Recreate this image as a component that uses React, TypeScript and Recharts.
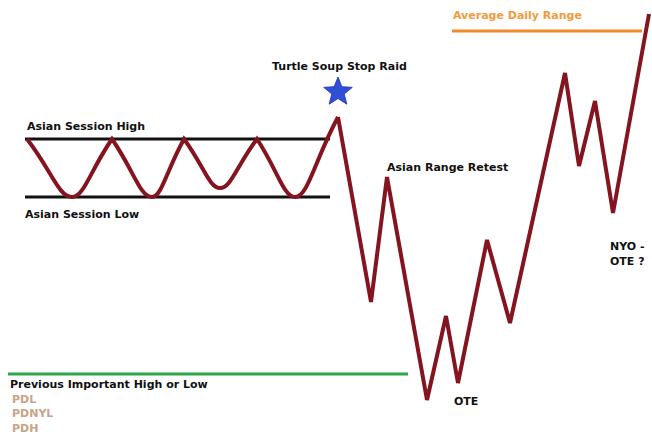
import { LineChart, Line, XAxis, YAxis, ReferenceLine, ReferenceDot } from "recharts";

// time runs left to right, price runs upward
const asianTime = [27, 72, 112, 152, 184, 220, 257, 295, 338];
const asianPrice = [303, 245, 303, 245, 303, 254, 303, 245, 325];
const moveTime = [338, 371, 387, 427, 446, 458, 487, 510, 565, 579, 595, 613, 649];
const movePrice = [325, 140, 265, 42, 126, 59, 202, 119, 369, 276, 341, 229, 428];

const asianHigh = 303;
const asianLow = 245;
const asianFrom = 25;
const asianTo = 330;
const prevLevel = 68;
const prevFrom = 8;
const prevTo = 408;
const adrLevel = 411;
const adrFrom = 452;
const adrTo = 642;

const labelText = [
  "Asian Session High",
  "Asian Session Low",
  "Turtle Soup Stop Raid",
  "Asian Range Retest",
  "OTE",
  "NYO -",
  "OTE ?",
  "Average Daily Range",
  "Previous Important High or Low",
  "PDL",
  "PDNYL",
  "PDH",
];
const labelTime = [27, 25, 272, 387, 454, 610, 610, 453, 10, 12, 12, 12];
const labelPrice = [312, 224, 372, 271, 37, 192, 177, 423, 54, 39, 25, 10];
const labelColor = [
  "#111", "#111", "#111", "#111", "#111", "#111", "#111",
  "#f29a3c", "#111", "#c9a386", "#c9a386", "#c9a386",
];

const raidTime = 338;
const raidPrice = 350;

const asianData = asianTime.map((t, i) => ({ t, p: asianPrice[i] }));
const moveData = moveTime.map((t, i) => ({ t, p: movePrice[i] }));

// sharp peaks, rounded troughs (troughs have the larger screen y)
function roundedTroughs(ctx: any) {
  let pts: number[][] = [];
  const straight = 0.55;
  const flat = 0.3;
  return {
    areaStart() {},
    areaEnd() {},
    lineStart() {
      pts = [];
    },
    point(x: number, y: number) {
      pts.push([+x, +y]);
    },
    lineEnd() {
      if (!pts.length) return;
      ctx.moveTo(pts[0][0], pts[0][1]);
      for (let i = 1; i < pts.length; i++) {
        const [ax, ay] = pts[i - 1];
        const [bx, by] = pts[i];
        if (by > ay) {
          ctx.bezierCurveTo(ax + (bx - ax) * straight, ay + (by - ay) * straight, bx - (bx - ax) * flat, by, bx, by);
        } else {
          ctx.bezierCurveTo(ax + (bx - ax) * flat, ay, bx - (bx - ax) * straight, by - (by - ay) * straight, bx, by);
        }
      }
    },
  };
}

const font = "'DejaVu Sans', Verdana, sans-serif";

function starShape(props: any) {
  const { cx, cy } = props;
  const pts: string[] = [];
  for (let i = 0; i < 10; i++) {
    const r = i % 2 === 0 ? 15 : 6.5;
    const a = -Math.PI / 2 + (i * Math.PI) / 5;
    pts.push(`${cx + r * Math.cos(a)},${cy + r * Math.sin(a)}`);
  }
  return <polygon points={pts.join(" ")} fill="#2f4fd6" stroke="#2a44b8" strokeWidth={1} />;
}

export default function App() {
  return (
    <div style={{ position: "absolute", left: 0, top: 0, width: 652, height: 442, background: "#fff" }}>
      <LineChart width={652} height={442} margin={{ top: 0, right: 0, bottom: 0, left: 0 }}>
        <XAxis type="number" dataKey="t" domain={[0, 652]} hide allowDataOverflow />
        <YAxis type="number" dataKey="p" domain={[0, 442]} hide allowDataOverflow />
        <ReferenceLine segment={[{ x: asianFrom, y: asianHigh }, { x: asianTo, y: asianHigh }]} stroke="#111" strokeWidth={3} />
        <ReferenceLine segment={[{ x: asianFrom, y: asianLow }, { x: asianTo, y: asianLow }]} stroke="#111" strokeWidth={3} />
        <ReferenceLine segment={[{ x: prevFrom, y: prevLevel }, { x: prevTo, y: prevLevel }]} stroke="#2ea84a" strokeWidth={3} />
        <ReferenceLine segment={[{ x: adrFrom, y: adrLevel }, { x: adrTo, y: adrLevel }]} stroke="#f28a2a" strokeWidth={3} />
        <Line data={asianData} dataKey="p" type={roundedTroughs as any} stroke="#84141f" strokeWidth={4} strokeLinecap="butt" dot={false} activeDot={false} isAnimationActive={false} />
        <Line data={moveData} dataKey="p" type="linear" stroke="#84141f" strokeWidth={4} dot={false} activeDot={false} isAnimationActive={false} />
        <ReferenceDot x={raidTime} y={raidPrice} r={15} shape={starShape} />
        {labelText.map((txt, i) => (
          <ReferenceDot
            key={i}
            x={labelTime[i]}
            y={labelPrice[i]}
            r={1}
            shape={(p: any) => (
              <text x={p.cx} y={p.cy} fill={labelColor[i]} fontFamily={font} fontWeight="bold" fontSize={11}>
                {txt}
              </text>
            )}
          />
        ))}
      </LineChart>
    </div>
  );
}
